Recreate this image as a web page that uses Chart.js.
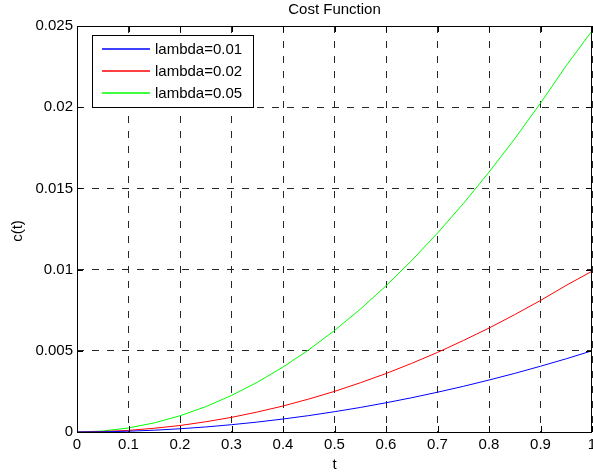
<!DOCTYPE html>
<html>
<head>
<meta charset="utf-8">
<script src="https://cdn.jsdelivr.net/npm/chart.js@4.4.1/dist/chart.umd.min.js"></script>
<style>
  html, body { margin: 0; padding: 0; background: #fff; }
  #wrap { width: 593px; height: 474px; }
</style>
</head>
<body>
<div id="wrap"><canvas id="costChart" width="593" height="474"></canvas></div>
<script>
// values
const tValues = [0, 0.05, 0.1, 0.15, 0.2, 0.25, 0.3, 0.35, 0.4, 0.45, 0.5,
                 0.55, 0.6, 0.65, 0.7, 0.75, 0.8, 0.85, 0.9, 0.95, 1.0];
const costLambda001 = [0, 0.00001, 0.00005, 0.00011, 0.0002, 0.00031, 0.00045, 0.00061, 0.0008, 0.00101, 0.00125,
                       0.00151, 0.0018, 0.00211, 0.00245, 0.00281, 0.0032, 0.00361, 0.00405, 0.00451, 0.0050];
const costLambda002 = [0, 0.00003, 0.0001, 0.00023, 0.0004, 0.00063, 0.0009, 0.00123, 0.0016, 0.00203, 0.0025,
                       0.00303, 0.0036, 0.00423, 0.0049, 0.00563, 0.0064, 0.00723, 0.0081, 0.00903, 0.0099];
const costLambda005 = [0, 0.00006, 0.00025, 0.00056, 0.001, 0.00156, 0.00225, 0.00306, 0.004, 0.00506, 0.00625,
                       0.00756, 0.009, 0.01056, 0.01225, 0.01406, 0.016, 0.01806, 0.02025, 0.02256, 0.0247];
const seriesLabels = ['lambda=0.01', 'lambda=0.02', 'lambda=0.05'];
const seriesColors = ['#0000ff', '#ff0000', '#00ff00'];

const FONT = '"Liberation Sans", Arial, Helvetica, sans-serif';

function toPoints(ys) {
    return tValues.map((t, i) => ({ x: t, y: ys[i] }));
}

function fmt(v) {
    return String(Number(v.toFixed(4)));
}

// frame, inner tick marks, title, axis labels and boxed legend (matlab look)
const matlabDecor = {
    id: 'matlabDecor',
    afterDraw(chart) {
        const ctx = chart.ctx;
        const area = chart.chartArea;
        const xs = chart.scales.x;
        const ys = chart.scales.y;
        const tickLen = 6;

        ctx.save();
        ctx.setLineDash([]);
        ctx.strokeStyle = '#000';
        ctx.lineWidth = 1;

        // inner ticks
        ctx.beginPath();
        xs.ticks.forEach(tk => {
            const px = Math.round(xs.getPixelForValue(tk.value)) + 0.5;
            ctx.moveTo(px, area.bottom);
            ctx.lineTo(px, area.bottom - tickLen);
            ctx.moveTo(px, area.top);
            ctx.lineTo(px, area.top + tickLen);
        });
        ys.ticks.forEach(tk => {
            const py = Math.round(ys.getPixelForValue(tk.value)) + 0.5;
            ctx.moveTo(area.left, py);
            ctx.lineTo(area.left + tickLen, py);
            ctx.moveTo(area.right, py);
            ctx.lineTo(area.right - tickLen, py);
        });
        ctx.stroke();

        // frame
        ctx.strokeRect(Math.round(area.left) + 0.5, Math.round(area.top) + 0.5,
            Math.round(area.right - area.left) - 1, Math.round(area.bottom - area.top));

        // texts
        ctx.fillStyle = '#000';
        ctx.font = '15px ' + FONT;
        ctx.textAlign = 'center';
        ctx.textBaseline = 'middle';
        ctx.fillText('Cost Function', (area.left + area.right) / 2, 10);
        ctx.fillText('t', (area.left + area.right) / 2, 465);
        ctx.save();
        ctx.translate(18, (area.top + area.bottom) / 2 + 2);
        ctx.rotate(-Math.PI / 2);
        ctx.fillText('c(t)', 0, 0);
        ctx.restore();

        // legend box
        const box = { x: 92, y: 35, w: 161, h: 72 };
        ctx.fillStyle = '#fff';
        ctx.fillRect(box.x, box.y, box.w, box.h);
        ctx.strokeStyle = '#000';
        ctx.strokeRect(box.x + 0.5, box.y + 0.5, box.w, box.h);
        ctx.textAlign = 'left';
        seriesLabels.forEach((label, i) => {
            const cy = 49 + i * 22;
            ctx.strokeStyle = seriesColors[i];
            ctx.lineWidth = 1.4;
            ctx.beginPath();
            ctx.moveTo(102, cy);
            ctx.lineTo(150, cy);
            ctx.stroke();
            ctx.fillStyle = '#000';
            ctx.fillText(label, 155, cy + 0.5);
        });
        ctx.restore();
    }
};

const datasets = [costLambda001, costLambda002, costLambda005].map((ys, i) => ({
    label: seriesLabels[i],
    data: toPoints(ys),
    borderColor: seriesColors[i],
    backgroundColor: seriesColors[i],
    borderWidth: 1,
    pointRadius: 0,
    tension: 0,
    fill: false
}));

const chart = new Chart(document.getElementById('costChart'), {
    type: 'line',
    data: { datasets: datasets },
    options: {
        responsive: false,
        animation: false,
        events: [],
        layout: { padding: { top: 26, right: 1, left: 0, bottom: 0 } },
        plugins: {
            legend: { display: false },
            title: { display: false },
            tooltip: { enabled: false }
        },
        scales: {
            x: {
                type: 'linear',
                min: 0,
                max: 1,
                afterFit(scale) {
                    scale.height = 42;
                    scale.paddingLeft = 0;
                    scale.paddingRight = 0;
                },
                ticks: {
                    stepSize: 0.1,
                    color: '#000',
                    padding: 4,
                    maxRotation: 0,
                    font: { family: FONT, size: 15 },
                    callback: v => fmt(v)
                },
                grid: { color: '#262626', lineWidth: 1, drawTicks: false },
                border: { display: false, dash: [7, 8] }
            },
            y: {
                type: 'linear',
                min: 0,
                max: 0.025,
                afterFit(scale) {
                    scale.width = 77;
                    scale.paddingTop = 0;
                    scale.paddingBottom = 0;
                },
                ticks: {
                    stepSize: 0.005,
                    color: '#000',
                    padding: 4,
                    font: { family: FONT, size: 15 },
                    callback: v => fmt(v)
                },
                grid: { color: '#262626', lineWidth: 1, drawTicks: false },
                border: { display: false, dash: [7, 8] }
            }
        }
    },
    plugins: [matlabDecor]
});
</script>
</body>
</html>
